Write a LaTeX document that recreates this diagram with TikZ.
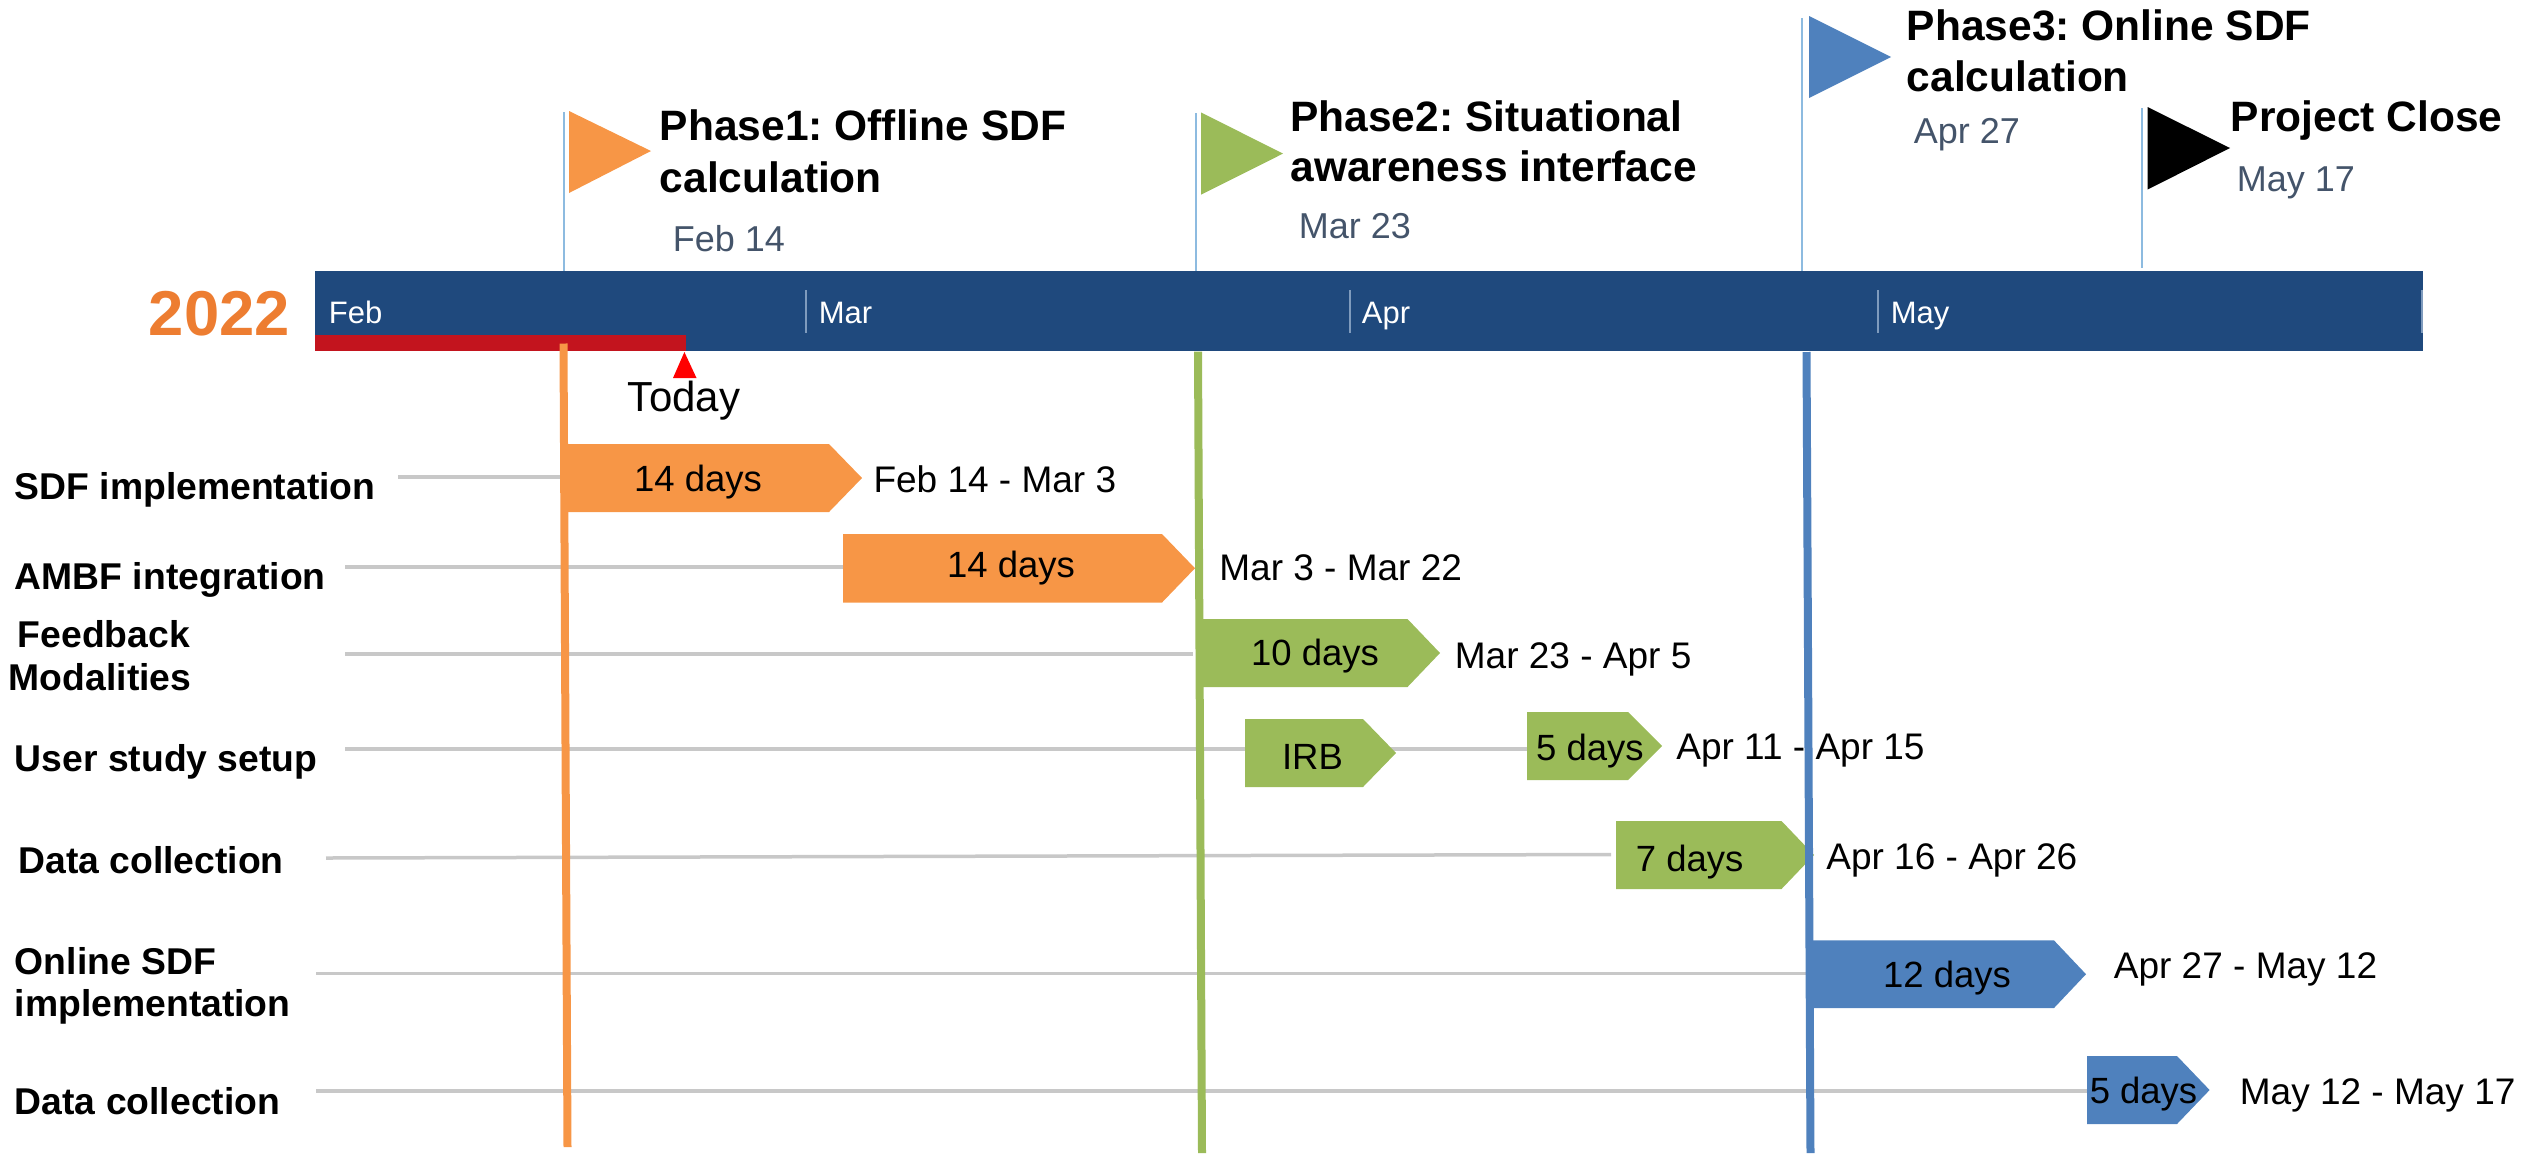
\documentclass[tikz,border=0pt]{standalone}
\usepackage{fontspec}
\setmainfont{Liberation Sans}
\frenchspacing
\definecolor{cOr}{HTML}{F79646}
\definecolor{cGr}{HTML}{9BBB59}
\definecolor{cBl}{HTML}{4F81BD}
\definecolor{cBar}{HTML}{1F497D}
\definecolor{cRed}{HTML}{C3141E}
\definecolor{cThin}{HTML}{8DBBE0}
\definecolor{cDate}{HTML}{44546A}
\definecolor{cYear}{HTML}{ED7D31}
\definecolor{cGrey}{HTML}{C8C8C8}
\definecolor{cTick}{HTML}{7F9BBD}
\newcommand{\fsz}[1]{\fontsize{#1}{#1}\selectfont}
\tikzset{
  txtlbl/.style={inner sep=0pt,anchor=base west},
  phaselbl/.style={txtlbl,font=\fsz{21.25}\bfseries},
  datelbl/.style={txtlbl,font=\fsz{18},text=cDate},
  monthlbl/.style={txtlbl,font=\fsz{15.5},text=white},
  tasklbl/.style={txtlbl,font=\fsz{18.65}\bfseries},
  rangelbl/.style={txtlbl,font=\fsz{18.5}},
  durlbl/.style={inner sep=0pt,anchor=base,font=\fsz{18.25}},
  rowline/.style={draw=cGrey,line width=1.75pt},
  poleline/.style={draw=cThin,line width=1pt},
  mileline/.style={line width=4pt},
  tickline/.style={draw=cTick,line width=0.8pt},
}
\newcommand{\chev}[6]{% x0, shoulder, tip, top, bottom, colour
  \fill[#6] (#1,#4) -- (#2,#4) -- (#3,{(#4+#5)/2}) -- (#2,#5) -- (#1,#5) -- cycle;}
\begin{document}
\begin{tikzpicture}[x=0.5pt,y=-0.5pt]
\useasboundingbox (0,0) rectangle (2527,1153);
% row lines
\coordinate (r1a) at (398,477);   \coordinate (r1b) at (563,477);
\coordinate (r2a) at (345,567);   \coordinate (r2b) at (843,567);
\coordinate (r3a) at (345,654);   \coordinate (r3b) at (1193,654);
\coordinate (r4a) at (345,749);   \coordinate (r4b) at (1527,749);
\coordinate (r5a) at (326,858);   \coordinate (r5b) at (1611,854.5);
\coordinate (r6a) at (316,973.5); \coordinate (r6b) at (1806,973.5);
\coordinate (r7a) at (316,1091);  \coordinate (r7b) at (2087,1091);
\foreach \n in {1,...,7} \draw[rowline] (r\n a) -- (r\n b);
% phase poles
\coordinate (p1a) at (563.5,112);  \coordinate (p1b) at (563.5,272);
\coordinate (p2a) at (1195.5,113); \coordinate (p2b) at (1195.5,272.5);
\coordinate (p3a) at (1801.7,18);  \coordinate (p3b) at (1801.7,272);
\coordinate (p4a) at (2141.7,108); \coordinate (p4b) at (2141.7,268);
\foreach \n in {1,...,4} \draw[poleline] (p\n a) -- (p\n b);
% flags
\fill[cOr] (569,111) -- (651,151) -- (569,193) -- cycle;
\fill[cGr] (1201,112.4) -- (1283,153.6) -- (1201,194.7) -- cycle;
\fill[cBl] (1809,16) -- (1891,57) -- (1809,98) -- cycle;
\fill[black] (2147.5,107) -- (2230,148) -- (2147.5,189.6) -- cycle;
% bar
\fill[cBar] (315,271) rectangle (2423,351);
\fill[cRed] (315,335) rectangle (686,351);
\fill[red] (684.4,352) -- (696.5,378) -- (673,378) -- cycle;
\foreach \x in {806,1350,1878,2422} \draw[tickline] (\x,290) -- (\x,332.5);
% chevrons
\chev{563}{829}{862}{444}{512}{cOr}
\chev{843}{1162}{1195}{534}{602.5}{cOr}
\chev{1198}{1407.5}{1440}{619}{687}{cGr}
\chev{1245}{1363}{1396}{719}{787}{cGr}
\chev{1527}{1628}{1662}{712}{780}{cGr}
\chev{1616}{1781.5}{1814}{821}{889}{cGr}
\chev{1806}{2054}{2086}{940.4}{1008}{cBl}
\chev{2087}{2177}{2209.6}{1056}{1124}{cBl}
% milestone lines
\coordinate (m1a) at (563.5,343.5); \coordinate (m1b) at (567.5,1147);
\coordinate (m2a) at (1198,351.6);  \coordinate (m2b) at (1202,1153);
\coordinate (m3a) at (1806.5,352);  \coordinate (m3b) at (1810.5,1153);
\draw[mileline,cOr] (m1a) -- (m1b);
\draw[mileline,cGr] (m2a) -- (m2b);
\draw[mileline,cBl] (m3a) -- (m3b);
% texts
\node[inner sep=0pt,anchor=base,font=\fsz{21}] (today) at (684,411) {Today};
\node[durlbl] (c1) at (698,491.5) {14 days};
\node[durlbl] (c2) at (1011,577) {14 days};
\node[durlbl] (c3) at (1315,665) {10 days};
\node[durlbl] (c4) at (1312.5,769.6) {IRB};
\node[durlbl] (c5) at (1590,760) {5 days};
\node[durlbl] (c6) at (1689.6,871.5) {7 days};
\node[durlbl] (c7) at (1947,987) {12 days};
\node[durlbl] (c8) at (2143.5,1103) {5 days};
\begin{scope}[shift={(-1.5,0.8)}]
\node[txtlbl,font=\fsz{31.7}\bfseries,text=cYear] (year) at (150,334.6) {2022};
\node[monthlbl] (mFeb) at (330,323) {Feb};
\node[monthlbl] (mMar) at (820,323) {Mar};
\node[monthlbl] (mApr) at (1363,323) {Apr};
\node[monthlbl] (mMay) at (1892,323) {May};
\node[phaselbl] (ph1a) at (661,140) {Phase1: Offline SDF};
\node[phaselbl] (ph1b) at (661,192) {calculation};
\node[phaselbl] (ph2a) at (1291.5,130.4) {Phase2: Situational};
\node[phaselbl] (ph2b) at (1291.5,181) {awareness interface};
\node[phaselbl] (ph3a) at (1908,39.3) {Phase3: Online SDF};
\node[phaselbl] (ph3b) at (1908,90.7) {calculation};
\node[phaselbl] (ph4) at (2232,131) {Project Close};
\node[datelbl] (d1) at (674,251) {Feb 14};
\node[datelbl] (d2) at (1300,237.7) {Mar 23};
\node[datelbl] (d3) at (1915,143) {Apr 27};
\node[datelbl] (d4) at (2238,191) {May 17};
\node[tasklbl] (t1) at (16,499) {SDF implementation};
\node[tasklbl] (t2) at (16,589) {AMBF integration};
\node[tasklbl] (t3a) at (19,647) {Feedback};
\node[tasklbl] (t3b) at (10,690) {Modalities};
\node[tasklbl] (t4) at (16,771) {User study setup};
\node[tasklbl] (t5) at (19.5,872.5) {Data collection};
\node[tasklbl] (t6a) at (16,973.5) {Online SDF};
\node[tasklbl] (t6b) at (16,1016) {implementation};
\node[tasklbl] (t7) at (16,1113.5) {Data collection};
\node[rangelbl] (g1) at (874.6,491.5) {Feb 14 - Mar 3};
\node[rangelbl] (g2) at (1220.5,580) {Mar 3 - Mar 22};
\node[rangelbl] (g3) at (1456,668) {Mar 23 - Apr 5};
\node[rangelbl] (g4) at (1677.5,758.6) {Apr 11 - Apr 15};
\node[rangelbl] (g5) at (1827.5,868.4) {Apr 16 - Apr 26};
\node[rangelbl] (g6) at (2115,978) {Apr 27 - May 12};
\node[rangelbl] (g7) at (2241,1103.5) {May 12 - May 17};
\end{scope}
\end{tikzpicture}
\end{document}
